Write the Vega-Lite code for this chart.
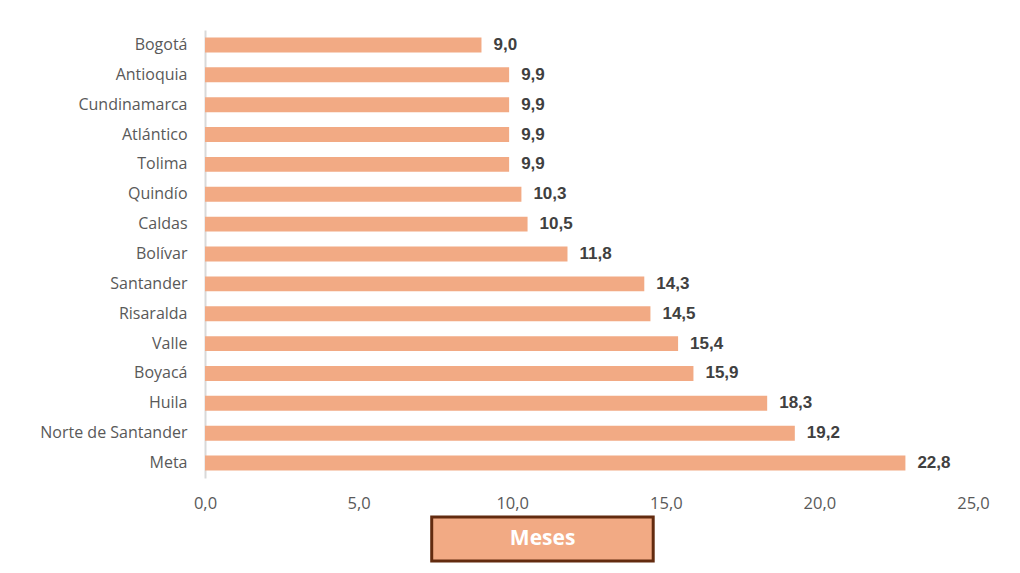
{
  "$schema": "https://vega.github.io/schema/vega-lite/v6.json",
  "padding": {"left": 39, "top": 30, "right": 10, "bottom": 10},
  "background": "white",
  "config": {
    "locale": {"number": {"decimal": ",", "thousands": ".", "grouping": [3], "currency": ["$", ""]}},
    "view": {"stroke": null},
    "font": "Open Sans"
  },
  "spacing": 39,
  "bounds": "flush",
  "vconcat": [
    {
      "width": 768,
      "height": 448,
      "data": {"values": [
        {"depto": "Bogotá", "meses": 9.0},
        {"depto": "Antioquia", "meses": 9.9},
        {"depto": "Cundinamarca", "meses": 9.9},
        {"depto": "Atlántico", "meses": 9.9},
        {"depto": "Tolima", "meses": 9.9},
        {"depto": "Quindío", "meses": 10.3},
        {"depto": "Caldas", "meses": 10.5},
        {"depto": "Bolívar", "meses": 11.8},
        {"depto": "Santander", "meses": 14.3},
        {"depto": "Risaralda", "meses": 14.5},
        {"depto": "Valle", "meses": 15.4},
        {"depto": "Boyacá", "meses": 15.9},
        {"depto": "Huila", "meses": 18.3},
        {"depto": "Norte de Santander", "meses": 19.2},
        {"depto": "Meta", "meses": 22.8}
      ]},
      "encoding": {
        "y": {
          "field": "depto", "type": "nominal", "sort": null,
          "scale": {"paddingInner": 0.5, "paddingOuter": 0.25},
          "axis": {
            "title": null, "ticks": false, "labelPadding": 18,
            "labelFont": "Open Sans", "labelFontSize": 16, "labelColor": "#595959",
            "domainColor": "#D9D9D9", "domainWidth": 2
          }
        },
        "x": {
          "field": "meses", "type": "quantitative",
          "scale": {"domain": [0, 25], "nice": false},
          "axis": {
            "title": null, "values": [0, 5, 10, 15, 20, 25], "format": ".1f",
            "grid": false, "domain": false, "ticks": false, "tickSize": 0, "labelFlush": false,
            "labelPadding": 17, "labelFont": "Open Sans", "labelFontSize": 16.5,
            "labelColor": "#595959"
          }
        }
      },
      "layer": [
        {"mark": {"type": "bar", "color": "#F2AA84"}},
        {
          "mark": {"type": "text", "align": "left", "baseline": "middle", "dx": 12,
                   "font": "Liberation Sans", "fontWeight": "bold", "fontSize": 17, "color": "#404040"},
          "encoding": {"text": {"field": "meses", "type": "quantitative", "format": ".1f"}}
        }
      ]
    },
    {
      "width": 768,
      "height": 44,
      "data": {"values": [{"titulo": "Meses"}]},
      "layer": [
        {
          "mark": {"type": "rect", "fill": "#F2AA84", "stroke": "#632B0F", "strokeWidth": 3},
          "encoding": {
            "x": {"datum": 7.38, "type": "quantitative", "scale": {"domain": [0, 25], "nice": false}, "axis": null},
            "x2": {"datum": 14.59}
          }
        },
        {
          "mark": {"type": "text", "align": "center", "baseline": "middle", "font": "Open Sans",
                   "fontWeight": "bold", "fontSize": 21, "color": "white"},
          "encoding": {
            "x": {"datum": 10.99, "type": "quantitative"},
            "text": {"field": "titulo", "type": "nominal"}
          }
        }
      ]
    }
  ]
}
